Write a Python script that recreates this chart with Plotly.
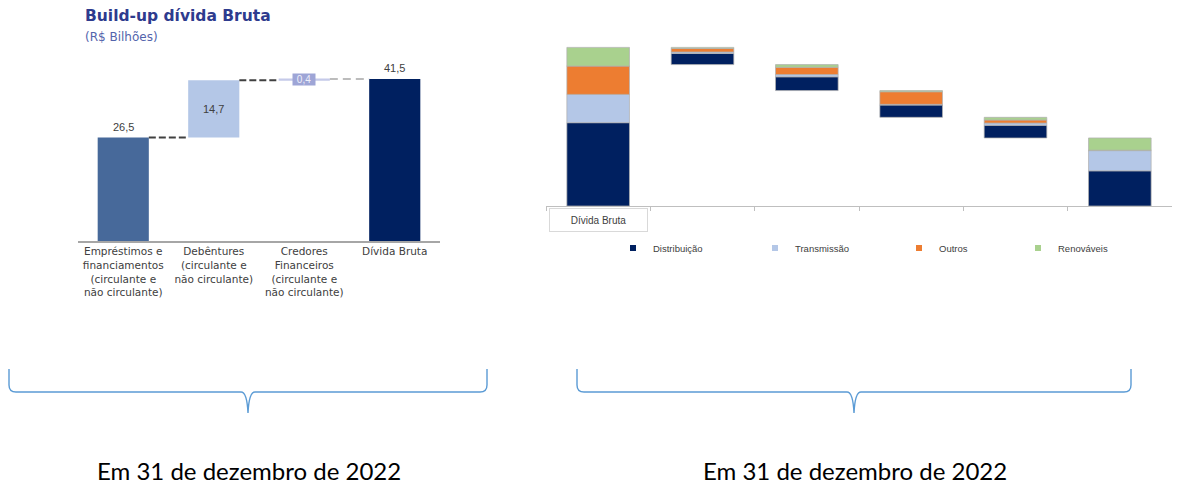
import plotly.graph_objects as go

# page has an 8px body margin: figure occupies 8..1180 x 8..491
OFF = 8
W, H = 1172, 483


def px(x):
    return (x - OFF) / W


def py(y):
    return 1 - (y - OFF) / H


# ---------------- Left chart data ----------------
left_categories = [
    "Empréstimos e<br>financiamentos<br>(circulante e<br>não circulante)",
    "Debêntures<br>(circulante e<br>não circulante)",
    "Credores<br>Financeiros<br>(circulante e<br>não circulante)",
    "Dívida Bruta",
]
left_values = [26.5, 14.7, 0.4, 41.5]
left_is_total = [False, False, False, True]
left_label_style = ["above", "inside", "box", "above"]
left_colors = ["#47699A", "#B4C7E7", "#C5CAE9", "#002060"]

# ---------------- Right chart data ----------------
right_categories = ["Dívida Bruta", "", "", "", "", ""]
series_names = ["Distribuição", "Transmissão", "Outros", "Renováveis"]
distribuicao = [21.8, 2.9, 3.6, 3.2, 3.3, 9.2]
transmissao = [7.4, 0.4, 0.6, 0.2, 0.6, 5.3]
outros = [7.4, 0.9, 1.9, 3.3, 0.8, 0.1]
renovaveis = [4.9, 0.3, 0.7, 0.3, 0.7, 3.2]
series_values = [distribuicao, transmissao, outros, renovaveis]
series_colors = ["#002060", "#B4C7E7", "#ED7D31", "#A9D18E"]

footer_text = "Em 31 de dezembro de 2022"

FONT = "Liberation Sans"
LABEL_FONT = "DejaVu Sans"
fig = go.Figure()

# ---------------- Left waterfall ----------------
left_x = list(range(len(left_values)))
left_bases = []
run = 0.0
for v, tot in zip(left_values, left_is_total):
    if tot:
        left_bases.append(0.0)
        run = v
    else:
        left_bases.append(run)
        run += v
LW = 0.565
fig.add_trace(go.Bar(
    x=left_x, y=left_values, base=left_bases, width=LW,
    marker=dict(color=left_colors, line=dict(width=0)),
    showlegend=False, hoverinfo="skip", xaxis="x", yaxis="y",
))

# connectors
for i in range(len(left_values) - 1):
    level = left_bases[i] + left_values[i]
    if left_is_total[i + 1]:
        level = left_values[i + 1]
        color, dash, width = "#A6A6A6", "8px,5px", 1.5
    else:
        color, dash, width = "#404040", "7px,3px", 2
    fig.add_trace(go.Scatter(
        x=[i + LW / 2, i + 1 - LW / 2], y=[level, level], mode="lines",
        line=dict(color=color, dash=dash, width=width),
        showlegend=False, hoverinfo="skip", xaxis="x", yaxis="y",
    ))

annotations = []


def fmt(v):
    return f"{v:.1f}".replace(".", ",")


for i, (v, b, st) in enumerate(zip(left_values, left_bases, left_label_style)):
    if st == "above":
        annotations.append(dict(x=i, y=b + v, xref="x", yref="y", text=fmt(v),
                                showarrow=False, yanchor="bottom", yshift=3,
                                font=dict(family=FONT, size=11, color="#404040")))
    elif st == "inside":
        annotations.append(dict(x=i, y=b + v / 2, xref="x", yref="y", text=fmt(v),
                                showarrow=False, yanchor="middle",
                                font=dict(family=FONT, size=11, color="#404040")))
    else:
        annotations.append(dict(x=i, y=b + v / 2, xref="x", yref="y", text=fmt(v),
                                showarrow=False, yanchor="middle", bgcolor="#9EA5D6",
                                width=22, height=11, borderpad=0,
                                font=dict(family=FONT, size=10, color="#EEF0FA")))

# ---------------- Right stacked waterfall ----------------
n = len(right_categories)
totals = [sum(s[i] for s in series_values) for i in range(n)]
bottoms = [0.0] * n
level = totals[0]
for i in range(1, n):
    bottoms[i] = level - totals[i]
    level = bottoms[i]
bottoms[-1] = max(bottoms[-1], 0.0)

cum = list(bottoms)
for name, vals, col in zip(series_names, series_values, series_colors):
    fig.add_trace(go.Bar(
        x=list(range(n)), y=vals, base=list(cum), width=0.6, name=name,
        marker=dict(color=col, line=dict(color="rgba(175,175,175,0.9)", width=0.8)),
        showlegend=False, hoverinfo="skip", xaxis="x2", yaxis="y2",
    ))
    cum = [c + v for c, v in zip(cum, vals)]

# legend-only entries (small square markers)
legend_ids = ["legend", "legend2", "legend3", "legend4"]
legend_px = [635, 777, 921, 1040]
for name, col, lid in zip(series_names, series_colors, legend_ids):
    fig.add_trace(go.Scatter(
        x=[None], y=[None], mode="markers", name=name,
        marker=dict(symbol="square", size=6, color=col),
        legend=lid, xaxis="x2", yaxis="y2", hoverinfo="skip",
    ))

annotations.append(dict(
    x=0, xref="x2", y=py(220), yref="paper", text=right_categories[0],
    showarrow=False, width=95, height=20, bordercolor="#D9D9D9", borderwidth=1,
    font=dict(family=FONT, size=10, color="#404040"),
))

# titles
annotations.append(dict(x=px(83), y=py(16), xref="paper", yref="paper",
                        text="<b>Build-up dívida Bruta</b>", showarrow=False,
                        xanchor="left", yanchor="middle",
                        font=dict(family="DejaVu Sans", size=15.5, color="#2E3B8E")))
annotations.append(dict(x=px(83), y=py(37), xref="paper", yref="paper",
                        text="(R$ Bilhões)", showarrow=False,
                        xanchor="left", yanchor="middle",
                        font=dict(family="DejaVu Sans", size=12, color="#5364AC")))

# footers
for cx in (249, 855):
    annotations.append(dict(x=px(cx), y=py(470), xref="paper", yref="paper",
                            text=footer_text, showarrow=False,
                            xanchor="center", yanchor="middle",
                            font=dict(family="Lato", size=24, color="#000000")))


# braces
def brace(x0, x1, xm, ytop=369, yh=392, ytip=413, r=7):
    pts = (f"M {px(x0)},{py(ytop)} L {px(x0)},{py(yh - r)} "
           f"Q {px(x0)},{py(yh)} {px(x0 + r)},{py(yh)} "
           f"L {px(xm - 7)},{py(yh)} Q {px(xm - 1)},{py(yh)} {px(xm)},{py(ytip)} "
           f"Q {px(xm + 1)},{py(yh)} {px(xm + 7)},{py(yh)} "
           f"L {px(x1 - r)},{py(yh)} Q {px(x1)},{py(yh)} {px(x1)},{py(yh - r)} "
           f"L {px(x1)},{py(ytop)}")
    return dict(type="path", path=pts, xref="paper", yref="paper",
                line=dict(color="#5B9BD5", width=1.4))


shapes = [brace(9, 487, 248), brace(577, 1131, 854)]

legend_layouts = {}
for lid, lx in zip(legend_ids, legend_px):
    legend_layouts[lid] = dict(
        x=px(lx - 22), y=py(248), xanchor="left", yanchor="middle",
        orientation="h", bgcolor="rgba(0,0,0,0)", borderwidth=0,
        font=dict(family=FONT, size=9.5, color="#404040"), itemwidth=30,
    )

fig.update_layout(
    width=W, height=H,
    margin=dict(l=0, r=0, t=0, b=0),
    paper_bgcolor="white", plot_bgcolor="white",
    separators=",.",
    barmode="overlay",
    xaxis=dict(domain=[px(78), px(440)], range=[-0.5, 3.5],
               tickmode="array", tickvals=left_x, ticktext=left_categories,
               showline=True, linecolor="#A6A6A6", linewidth=1.5,
               showgrid=False, zeroline=False, ticks="",
               tickfont=dict(family=LABEL_FONT, size=10.5, color="#404040"),
               fixedrange=True),
    yaxis=dict(domain=[py(241), py(45.8)], range=[0, 50], visible=False,
               fixedrange=True),
    xaxis2=dict(domain=[px(546), px(1172)], range=[-0.5, n - 0.5], anchor="y2",
                tickmode="array", tickvals=[i - 0.5 for i in range(n + 1)],
                ticktext=[""] * (n + 1), showticklabels=False,
                ticks="outside", ticklen=4, tickcolor="#BFBFBF", tickwidth=1,
                showline=True, linecolor="#BFBFBF", linewidth=1,
                showgrid=False, zeroline=False, fixedrange=True),
    yaxis2=dict(domain=[py(206), py(34)], range=[0, 45], visible=False,
                anchor="x2", fixedrange=True),
    annotations=annotations,
    shapes=shapes,
    **legend_layouts,
)

fig.write_html("out.html")
